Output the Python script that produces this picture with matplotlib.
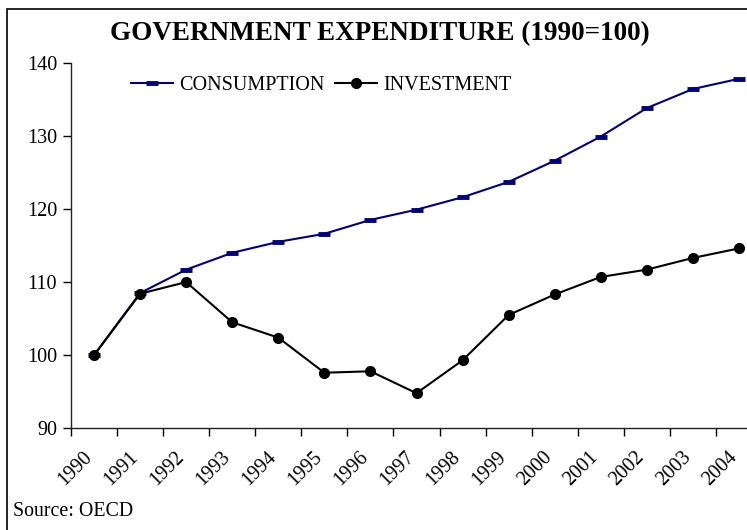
import matplotlib
matplotlib.use("Agg")
import matplotlib.pyplot as plt
from matplotlib.patches import Rectangle
import matplotlib.transforms as mtransforms
import numpy as np

years = ["1990", "1991", "1992", "1993", "1994", "1995", "1996", "1997",
         "1998", "1999", "2000", "2001", "2002", "2003", "2004"]
consumption = [100.0, 108.5, 111.7, 114.0, 115.5, 116.6, 118.5, 119.9,
               121.6, 123.7, 126.6, 129.9, 133.8, 136.4, 137.8]
investment = [100.0, 108.4, 110.0, 104.5, 102.4, 97.6, 97.8, 94.8,
              99.3, 105.5, 108.3, 110.7, 111.7, 113.3, 114.6]
yticks = [90, 100, 110, 120, 130, 140]

plt.rcParams['font.family'] = ['Liberation Serif', 'DejaVu Serif']

W, H = 747, 530
fig = plt.figure(figsize=(W / 100, H / 100), dpi=100)

# border (left/top visible, rest cropped)
fig.patches.append(Rectangle((7 / W, -0.05), 1.2, 1 - 9 / H + 0.05,
                             transform=fig.transFigure, fill=False,
                             edgecolor='black', linewidth=1.2, clip_on=False))

left, right = 71 / W, 762 / W
bottom, top = 1 - 428.3 / H, 1 - 62.7 / H
ax = fig.add_axes([left, bottom, right - left, top - bottom])
ax.set_clip_on(False)

x = np.arange(len(years))
ax.plot(x, consumption, color='#000080', linewidth=1.5, marker='_',
        markersize=8, markeredgewidth=3.5, label='CONSUMPTION', zorder=3,
        clip_on=False)
ax.plot(x, investment, color='black', linewidth=1.5, marker='o',
        markersize=7, label='INVESTMENT', zorder=4, clip_on=False)

ax.set_xlim(-0.5, len(years) - 0.5)
ax.set_ylim(90, 140)
ax.set_yticks(yticks)
ax.set_yticklabels([str(v) for v in yticks], fontsize=14.5)
ax.tick_params(axis='y', direction='out', length=6, width=1, pad=4)

ax.set_xticks(x)
ax.set_xticklabels(years, fontsize=14.5, rotation=45, ha='right',
                   rotation_mode='anchor')
ax.tick_params(axis='x', which='major', length=0, pad=19)
ax.set_xticks(np.arange(len(years)) - 0.5, minor=True)
ax.tick_params(axis='x', which='minor', direction='out', length=6, width=1)
shift = mtransforms.ScaledTranslation(-5 / 100, 0, fig.dpi_scale_trans)
for lbl in ax.get_xticklabels():
    lbl.set_verticalalignment('center')
    lbl.set_transform(lbl.get_transform() + shift)

for s in ['top', 'right']:
    ax.spines[s].set_visible(False)
for s in ['left', 'bottom']:
    ax.spines[s].set_color('#222222')
    ax.spines[s].set_linewidth(1)

leg = ax.legend(loc='upper left', bbox_to_anchor=(131 / W, 1 - 76 / H),
                bbox_transform=fig.transFigure, ncol=2, frameon=False,
                fontsize=14.5, handlelength=2.1, handletextpad=0.3,
                columnspacing=0.5, borderaxespad=0, borderpad=0)

fig.text(380 / W, 1 - 34 / H, "GOVERNMENT EXPENDITURE (1990=100)",
         ha='center', va='center', fontsize=19.5, fontweight='bold')
fig.text(13 / W, 1 - 512 / H, "Source: OECD", ha='left', va='center',
         fontsize=14.3)

fig.savefig("out.png", dpi=100)
